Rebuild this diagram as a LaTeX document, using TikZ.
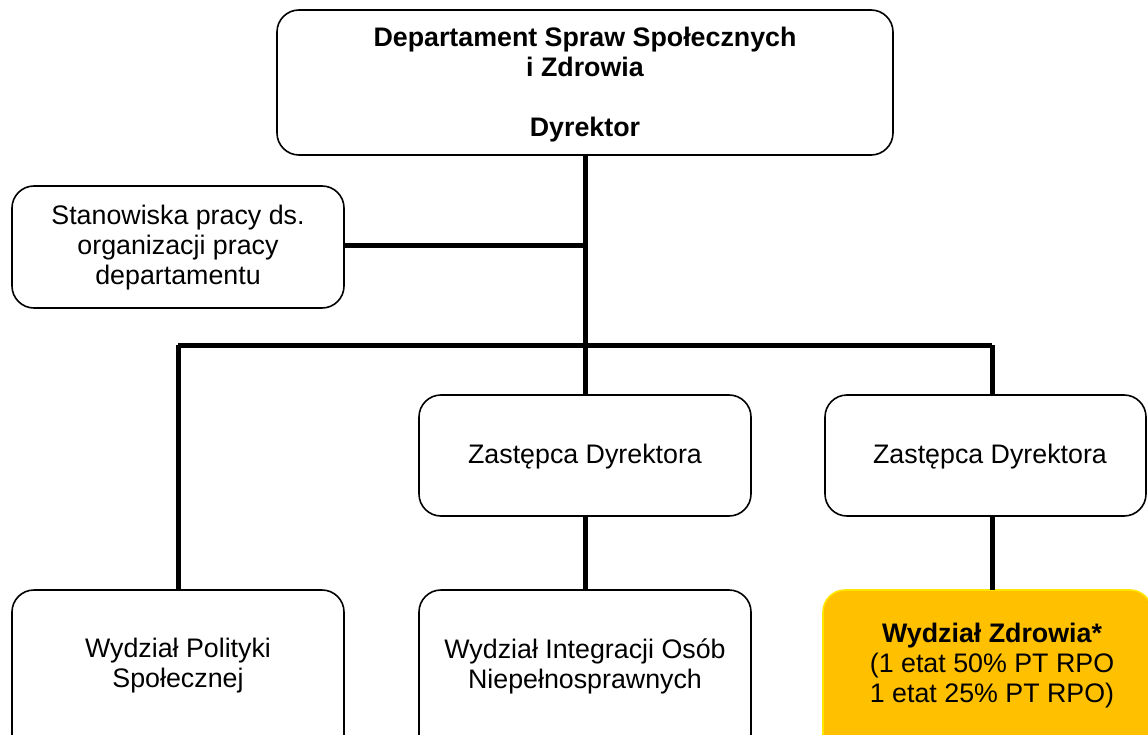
\documentclass[tikz,border=0pt]{standalone}
\usepackage{fontspec}
\setmainfont{Liberation Sans}
\begin{document}
\begin{tikzpicture}[x=1pt,y=-1pt,
  box/.style={draw=black,line width=1.6pt,rounded corners=22pt,fill=white},
  label/.style={align=center,font=\fontsize{26.8}{30}\selectfont},
  link/.style={line width=5pt,black}]
\useasboundingbox (0,0) rectangle (1148,735);
\clip (0,0) rectangle (1148,735);
% boxes
\draw[box] (277,10) rectangle (893,155);
\node[label,font=\fontsize{26.8}{30}\selectfont\bfseries] (dir) at (585,85)
  {Departament Spraw Społecznych\\ i Zdrowia\\[30pt] Dyrektor};
\coordinate (dirb) at (585,155);
\draw[box] (12,186) rectangle (344,308);
\node[label] (stan) at (178,248) {Stanowiska pracy ds.\\ organizacji pracy\\ departamentu};
\coordinate (stanr) at (344,246);
\draw[box] (419,395) rectangle (751,516);
\node[label] (zast1) at (585,457) {Zastępca Dyrektora};
\draw[box] (825,395) rectangle (1146,516);
\node[label] (zast2) at (990,457) {Zastępca Dyrektora};
\draw[box] (12,590) rectangle (344,770);
\node[label] (wpol) at (178,666) {Wydział Polityki\\ Społecznej};
\draw[box] (419,590) rectangle (751,770);
\node[label] (wint) at (585,666) {Wydział Integracji Osób\\ Niepełnosprawnych};
\draw[box,draw={rgb,255:red,255;green,230;blue,0},fill={rgb,255:red,255;green,192;blue,0}] (823,590) rectangle (1152,770);
\node[label] (wzdr) at (992,666) {\textbf{Wydział Zdrowia*}\\ (1 etat 50\% PT RPO\\ 1 etat 25\% PT RPO)};
% connectors
\coordinate (hub) at (585,345);
\coordinate (side) at (585,246);
\coordinate (lft) at (178,345);
\coordinate (rgt) at (992,345);
\draw[link] (dirb) -- (hub);
\draw[link] (stanr) -- (side);
\draw[link] (lft) -- (rgt);
\draw[link] (lft) -- (178,590);
\draw[link] (hub) -- (585,395);
\draw[link] (rgt) -- (992,395);
\draw[link] (585,516) -- (585,590);
\draw[link] (992,516) -- (992,590);
\end{tikzpicture}
\end{document}
